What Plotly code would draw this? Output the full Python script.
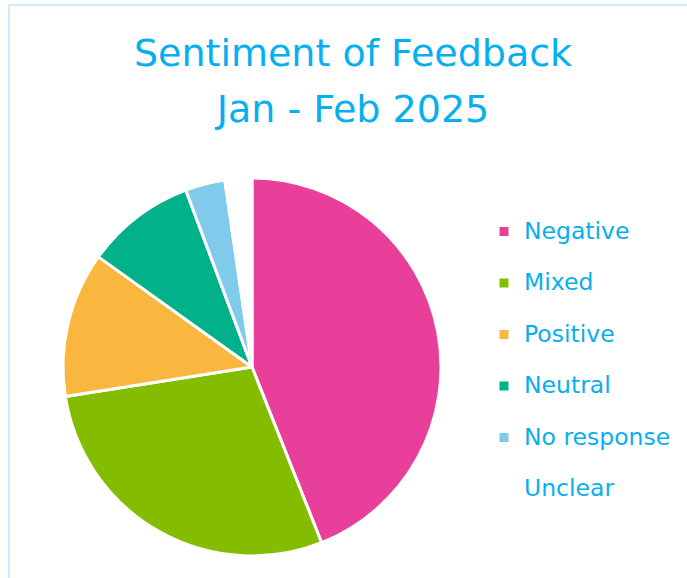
import plotly.graph_objects as go

# ── data ─────────────────────────────────────────────────────
CATEGORIES = ["Negative", "Mixed", "Positive", "Neutral", "No response", "Unclear"]
SHARES = [44.0, 28.5, 12.4, 9.4, 3.4, 2.3]   # percent of responses
COLORS = ["#E8409A", "#84BD00", "#F9B73F", "#00B189", "#80CBEC", "#FFFFFF"]

TITLE_LINES = ["Sentiment of Feedback", "Jan - Feb 2025"]

# ── design tokens ────────────────────────────────────────────
W, H = 687, 578
CYAN = "#06AFF0"
BORDER = "#CBEEFD"
FONT = "'DejaVu Sans', sans-serif"


def px_x(v):
    return v / W


def px_y(v):
    # pixel from top -> paper fraction from bottom
    return 1 - v / H


# legend labels: real text at 24px, empty 2nd line only to widen row spacing
legend_labels = [
    f"<span style='font-size:23.5px'>{c}</span><br> " for c in CATEGORIES
]

fig = go.Figure(go.Pie(
    labels=legend_labels,
    values=SHARES,
    customdata=CATEGORIES,
    sort=False,
    direction="clockwise",
    rotation=0,
    marker=dict(colors=COLORS, line=dict(color="white", width=3)),
    textinfo="none",
    hovertemplate="%{customdata}: %{value:.1f}%<extra></extra>",
    domain=dict(x=[px_x(63), px_x(441)], y=[px_y(556), px_y(178)]),
))

title_text = "<br>".join(
    f"<span style='font-size:38px'>{t}</span>" for t in TITLE_LINES
)

fig.update_layout(
    width=W,
    height=H,
    paper_bgcolor="white",
    plot_bgcolor="white",
    margin=dict(l=0, r=0, t=0, b=0),
    font=dict(family=FONT, color=CYAN),
    title=dict(
        text=title_text,
        font=dict(size=43, color=CYAN, family=FONT),
        x=px_x(353),
        xanchor="center",
        y=px_y(66),
        yanchor="top",
        yref="container",
    ),
    showlegend=True,
    legend=dict(
        x=px_x(484),
        xanchor="left",
        y=px_y(213),
        yanchor="top",
        font=dict(size=18.65, color=CYAN, family=FONT),
        valign="top",
        bgcolor="rgba(0,0,0,0)",
        traceorder="normal",
    ),
    shapes=[
        dict(
            type="rect",
            xref="paper", yref="paper",
            x0=px_x(9), x1=1.05,
            y0=-0.05, y1=px_y(5),
            line=dict(color=BORDER, width=2),
            fillcolor="rgba(0,0,0,0)",
            layer="below",
        )
    ],
)

# drop the page's default 8px body margin so the figure sits at the window corner
fig.write_html(
    "out.html",
    config={"displayModeBar": False},
    post_script="document.body.style.margin='0px';",
)
